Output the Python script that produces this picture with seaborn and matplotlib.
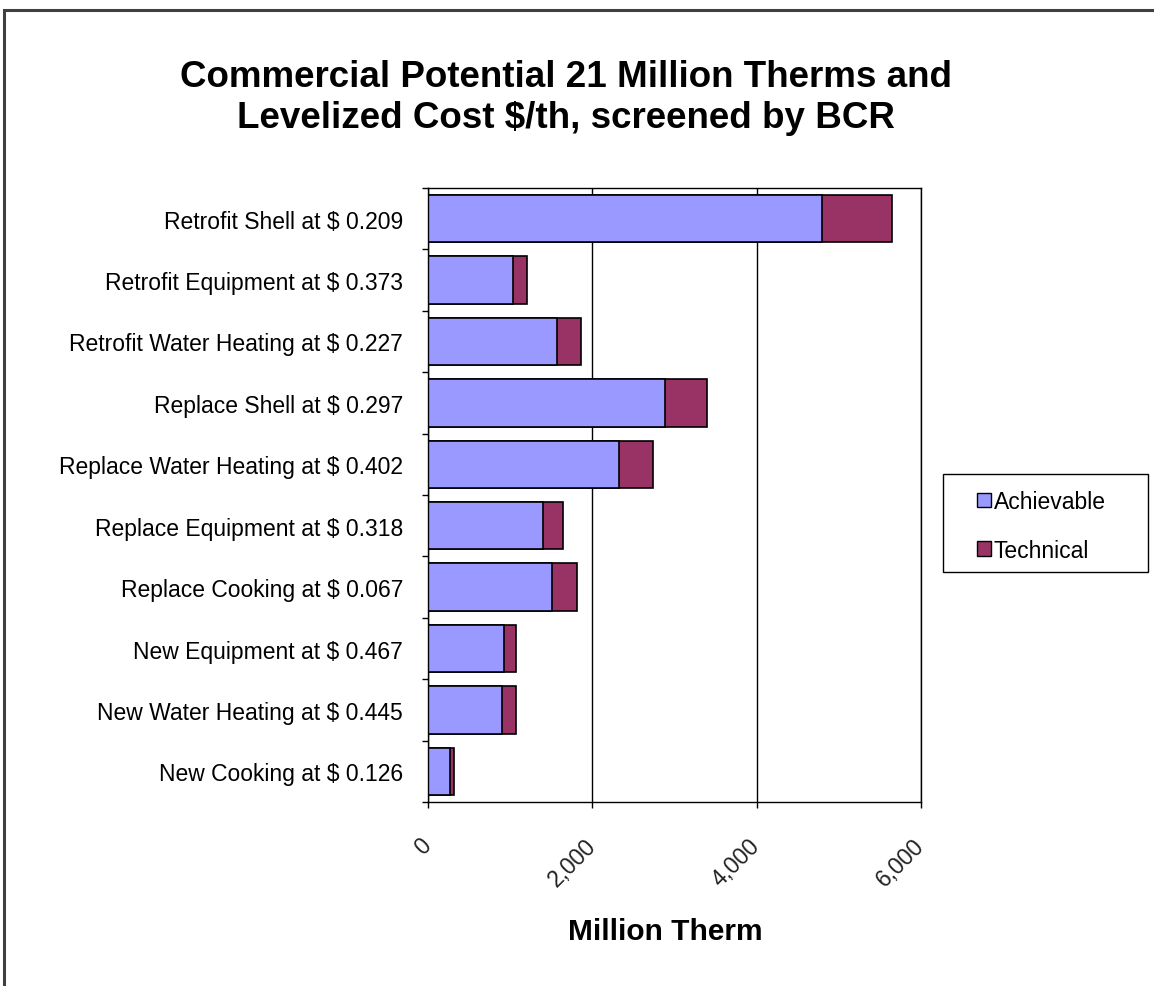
import matplotlib
matplotlib.use("Agg")
import matplotlib.pyplot as plt
import seaborn as sns
import numpy as np
import pandas as pd
from matplotlib.patches import Patch, Rectangle
from matplotlib.ticker import FuncFormatter

# ---- data (Million Therm) ----
categories = [
    "Retrofit Shell at $ 0.209",
    "Retrofit Equipment at $ 0.373",
    "Retrofit Water Heating at $ 0.227",
    "Replace Shell at $ 0.297",
    "Replace Water Heating at $ 0.402",
    "Replace Equipment at $ 0.318",
    "Replace Cooking at $ 0.067",
    "New Equipment at $ 0.467",
    "New Water Heating at $ 0.445",
    "New Cooking at $ 0.126",
]
achievable = [4790, 1030, 1565, 2885, 2325, 1395, 1515, 930, 905, 270]
technical = [855, 170, 295, 515, 415, 250, 295, 145, 170, 50]
series_names = ["Achievable", "Technical"]
x_ticks = [0, 2000, 4000, 6000]

title_lines = ["Commercial Potential 21 Million Therms and",
               "Levelized Cost $/th, screened by BCR"]
x_label = "Million Therm"

c_ach = "#9999FF"
c_tech = "#993366"

sns.set_theme(style="white")
plt.rcParams["font.family"] = ["Liberation Sans", "DejaVu Sans"]
plt.rcParams["text.color"] = "black"

df = pd.DataFrame({"Measure": categories,
                   "Achievable": achievable,
                   "Technical": technical})
df["Total"] = df["Achievable"] + df["Technical"]

W, H = 1154, 987
fig = plt.figure(figsize=(W / 100, H / 100), dpi=100)
fig.patch.set_facecolor("white")
ax = fig.add_axes([428 / W, 1 - 803 / H, 493 / W, 614 / H])

sns.barplot(data=df, y="Measure", x="Total", order=categories, orient="h",
            color=c_tech, saturation=1, width=0.77, edgecolor="black",
            linewidth=1.2, ax=ax)
sns.barplot(data=df, y="Measure", x="Achievable", order=categories, orient="h",
            color=c_ach, saturation=1, width=0.77, edgecolor="black",
            linewidth=1.2, ax=ax)

ax.set_xlim(0, 6000)
ax.set_ylim(len(categories) - 0.5, -0.5)
ax.set_xticks(x_ticks)
ax.xaxis.set_major_formatter(FuncFormatter(lambda v, p: f"{int(v):,}"))
ax.set_ylabel("")

ax.grid(axis="x", color="black", linewidth=1)
ax.grid(axis="y", visible=False)
ax.set_axisbelow(True)
for s in ax.spines.values():
    s.set_visible(True)
    s.set_color("black")
    s.set_linewidth(1)

# y ticks: labels at centres, tick marks at boundaries
ax.set_yticks(np.arange(-0.5, len(categories), 1), minor=True)
ax.tick_params(axis="y", which="major", length=0, pad=18, labelsize=16.5,
               labelcolor="black", left=True)
ax.tick_params(axis="y", which="minor", length=4.5, width=1, color="black",
               direction="out", left=True)
ax.tick_params(axis="x", which="major", length=4.5, width=1, color="black",
               direction="out", bottom=True, pad=24, labelsize=16.5,
               labelcolor="#222222")
for lab in ax.get_xticklabels():
    lab.set_rotation(45)
    lab.set_ha("right")
    lab.set_va("center")
    lab.set_rotation_mode("anchor")

ax.set_xlabel(x_label, fontsize=21.5, fontweight="bold", va="baseline",
              color="black")
ax.xaxis.set_label_coords(0.481, (803 - 940) / 614)

# title
fig.text(566 / W, 1 - 87 / H, title_lines[0], ha="center", va="baseline",
         fontsize=26.5, fontweight="bold", color="black")
fig.text(566 / W, 1 - 128 / H, title_lines[1], ha="center", va="baseline",
         fontsize=26.5, fontweight="bold", color="black")

# legend (frame drawn separately to match the wide box)
handles = [Patch(facecolor=c_ach, edgecolor="black", linewidth=1),
           Patch(facecolor=c_tech, edgecolor="black", linewidth=1)]
leg = fig.legend(handles, series_names, loc="upper left",
                 bbox_to_anchor=(977 / W, 1 - 491 / H),
                 bbox_transform=fig.transFigure, borderaxespad=0,
                 fontsize=16.5, frameon=False,
                 handlelength=0.6, handleheight=0.6, handletextpad=0.12,
                 labelspacing=1.12, borderpad=0)
fig.patches.append(Rectangle((943 / W, 1 - 573 / H), 205 / W, 98 / H,
                             transform=fig.transFigure, fill=False,
                             edgecolor="black", linewidth=1))

# outer chart border
fig.patches.append(Rectangle((4 / W, -0.1), 1.2, 1 - 11 / H + 0.1,
                             transform=fig.transFigure, fill=False,
                             edgecolor="#404040", linewidth=2.2))

fig.savefig("out.png", dpi=100, facecolor="white")
